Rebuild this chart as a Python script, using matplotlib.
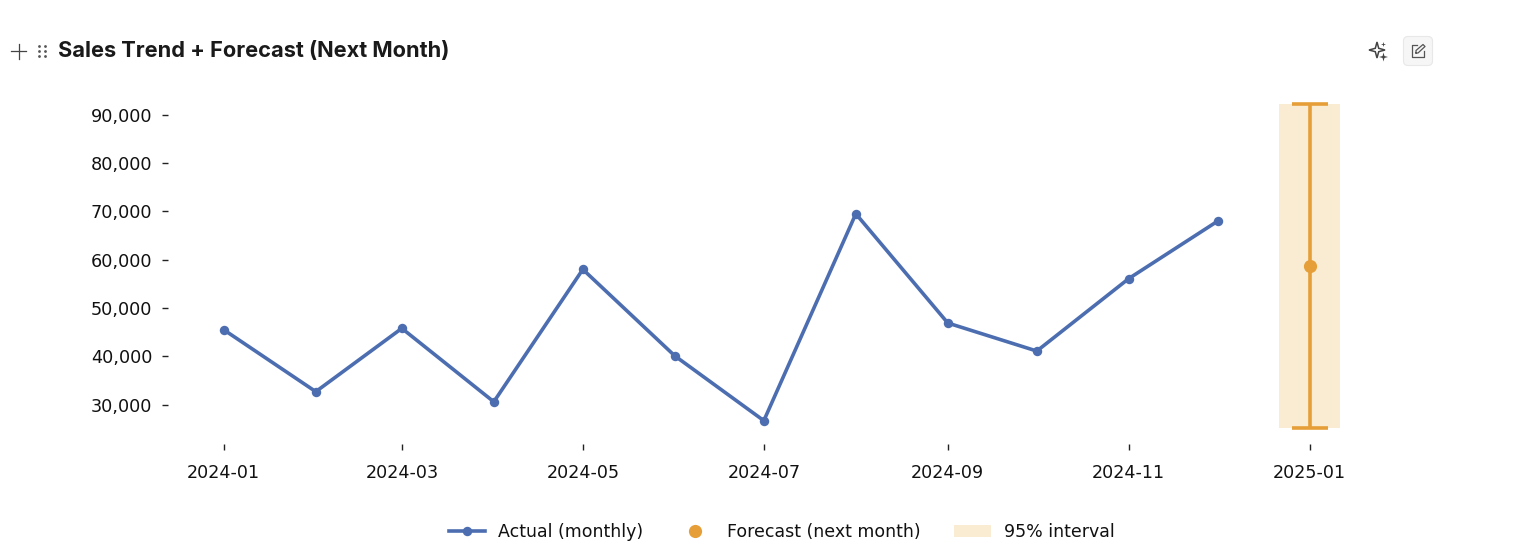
import matplotlib
matplotlib.use("Agg")
import matplotlib.pyplot as plt
import matplotlib.dates as mdates
from matplotlib.lines import Line2D
from matplotlib.patches import FancyBboxPatch, Patch, Polygon
from matplotlib.ticker import FuncFormatter
import numpy as np
import pandas as pd

months = ["2024-01","2024-02","2024-03","2024-04","2024-05","2024-06",
          "2024-07","2024-08","2024-09","2024-10","2024-11","2024-12"]
actual = [45500,32700,45800,30600,58000,40100,26700,69500,46900,41100,56100,68000]
forecast_month = "2025-01"
forecast_value = 58800
interval_low = 25100
interval_high = 92300
y_ticks = [30000,40000,50000,60000,70000,80000,90000]
x_tick_labels = ["2024-01","2024-03","2024-05","2024-07","2024-09","2024-11","2025-01"]
title = "Sales Trend + Forecast (Next Month)"

BLUE = "#4C6EB1"
ORANGE = "#E69F38"
BAND = "#FAECD3"
W, H = 1518, 555
plt.rcParams["font.family"] = "DejaVu Sans"
fig = plt.figure(figsize=(W/100, H/100), dpi=100)

L, R, T, B = 168, 1400, 90, 444
ax = fig.add_axes([L/W, 1-B/H, (R-L)/W, (B-T)/H])
PX_PER_DAY = 1086/366
x0 = pd.Timestamp("2024-01-01")
X0PX = 223.8
ax.set_xlim(x0 - pd.Timedelta(days=(X0PX-L)/PX_PER_DAY), x0 + pd.Timedelta(days=(R-X0PX)/PX_PER_DAY))
PX_PER_UNIT = 290/60000
Y30 = 404.7
ax.set_ylim(30000-(B-Y30)/PX_PER_UNIT, 30000+(Y30-T)/PX_PER_UNIT)

dates = pd.to_datetime(months)
fd = pd.Timestamp(forecast_month)
ax.bar([fd], [interval_high-interval_low], bottom=[interval_low], width=20.6,
       color=BAND, linewidth=0, zorder=1)
ax.errorbar([fd], [forecast_value],
            yerr=[[forecast_value-interval_low],[interval_high-forecast_value]],
            fmt="none", ecolor=ORANGE, elinewidth=2.6, capsize=13, capthick=2.6, zorder=2)
ax.plot([fd], [forecast_value], "o", color=ORANGE, ms=9.5, mew=0, zorder=3)
ax.plot(dates, actual, "-o", color=BLUE, lw=2.6, ms=6.8, mew=0, zorder=3)

for s in ax.spines.values():
    s.set_visible(False)
ax.set_yticks(y_ticks)
ax.yaxis.set_major_formatter(FuncFormatter(lambda v, _: f"{int(v):,}"))
ax.set_xticks(pd.to_datetime(x_tick_labels))
ax.xaxis.set_major_formatter(mdates.DateFormatter("%Y-%m"))
ax.tick_params(axis="both", length=4.2, width=1, color="#222222", labelcolor="#111111")
ax.tick_params(axis="y", labelsize=12.7, pad=7)
ax.tick_params(axis="x", labelsize=12.6, pad=10)

handles = [Line2D([0],[0],color=BLUE,lw=2.6,marker="o",ms=6.8,mew=0),
           Line2D([0],[0],color="none",marker="o",mfc=ORANGE,mec=ORANGE,ms=9.5,mew=0),
           Patch(facecolor=BAND,edgecolor="none")]
fig.legend(handles, ["Actual (monthly)","Forecast (next month)","95% interval"],
           loc="center", bbox_to_anchor=(781.5/W, 1-532/H), ncol=3, frameon=False,
           fontsize=12.5, handlelength=2.1, handletextpad=0.75, columnspacing=1.95,
           labelcolor="#111111")

fig.text(58/W, 1-50.5/H, title, fontsize=15.7, fontweight="bold", family="Inter",
         color="#1a1a1a", ha="left", va="center")

# Page chrome icons
def px_line(xs, ys, c="#444444", lw=0.9):
    fig.add_artist(Line2D([x/W for x in xs],[1-y/H for y in ys],color=c,lw=lw,transform=fig.transFigure))
def star(cx, cy, r, fill):
    ang = np.arange(8)*np.pi/4
    rad = np.where(np.arange(8)%2==0, r, r*0.3)
    pts = [((cx+a*np.sin(t))/W, 1-(cy-a*np.cos(t))/H) for a,t in zip(rad,ang)]
    fig.add_artist(Polygon(pts, closed=True, transform=fig.transFigure,
                           fc="#444444" if fill else "white", ec="#444444", lw=1.1 if not fill else 0))
px_line([11,26],[51,51]); px_line([18.5,18.5],[43.5,58.5])
for x in (38.5,44.5):
    for y in (46,51,56):
        fig.add_artist(Line2D([x/W],[1-y/H],marker="o",ms=2,mew=0,color="#555555",transform=fig.transFigure))
# edit button
fig.add_artist(FancyBboxPatch((1403.5/W,1-65.5/H),29/W,29/H,boxstyle="round,pad=0,rounding_size=0.003",
    transform=fig.transFigure,fc="#F6F6F6",ec="#E8E8E8",lw=0.8,mutation_aspect=W/H))
px_line([1417,1411.5,1411.5,1424,1424],[45,45,57,57,51],c="#555555")
px_line([1416,1416,1423,1425,1418,1416],[53,50.5,44.5,46.5,53,53],c="#555555")
# sparkle
star(1377, 50, 8, False)
star(1383.5, 57, 4.5, True)
star(1383.5, 44.5, 2.5, True)

fig.savefig("out.png", dpi=100, facecolor="white")
